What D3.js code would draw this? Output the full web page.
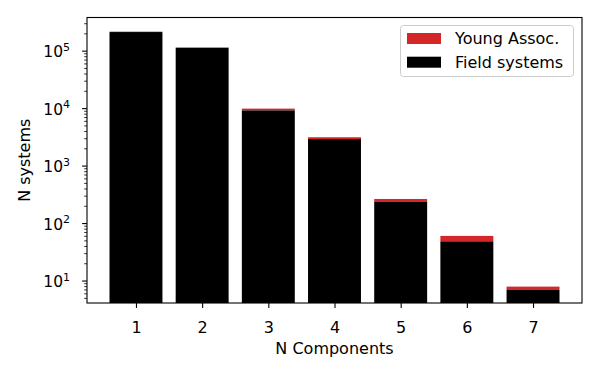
<!DOCTYPE html>
<html>
<head>
<meta charset="utf-8">
<script src="https://cdn.jsdelivr.net/npm/d3@7"></script>
<style>
  body { margin: 0; background: white; }
  svg text { font-family: "DejaVu Sans", sans-serif; fill: #000; }
</style>
</head>
<body>
<div id="chart"></div>
<script>
// Data
const components = [1, 2, 3, 4, 5, 6, 7];
const fieldSystems = [215000, 114000, 9300, 2950, 238, 49, 7];
const youngAssoc = [3500, 2000, 700, 230, 30, 12, 1];
const yTickExps = [1, 2, 3, 4, 5];

const width = 600,
  height = 375;
const margin = { left: 87, right: 18, top: 17.5, bottom: 72 };
const red = "#d62728";
const fontSize = "16px";

const svg = d3
  .select("#chart")
  .append("svg")
  .attr("width", width)
  .attr("height", height);

const x = d3
  .scaleLinear()
  .domain([0.26, 7.74])
  .range([margin.left, width - margin.right]);

const y = d3
  .scaleLog()
  .domain([4.15, 3.85e5])
  .range([height - margin.bottom, margin.top]);

const barW = x(0.8) - x(0);

// Stacked bars: field systems on bottom, young associations on top
const bars = components.map((c, i) => ({
  c: c,
  field: fieldSystems[i],
  total: fieldSystems[i] + youngAssoc[i],
}));

const plot = svg.append("g");
plot
  .selectAll("rect.young")
  .data(bars)
  .enter()
  .append("rect")
  .attr("class", "young")
  .attr("x", (d) => x(d.c) - barW / 2)
  .attr("width", barW)
  .attr("y", (d) => y(d.total))
  .attr("height", (d) => y(d.field) - y(d.total))
  .attr("fill", red);

plot
  .selectAll("rect.field")
  .data(bars)
  .enter()
  .append("rect")
  .attr("class", "field")
  .attr("x", (d) => x(d.c) - barW / 2)
  .attr("width", barW)
  .attr("y", (d) => y(d.field))
  .attr("height", (d) => y.range()[0] - y(d.field))
  .attr("fill", "black");

// x axis
const xAxis = svg
  .append("g")
  .attr("transform", `translate(0,${height - margin.bottom})`)
  .call(d3.axisBottom(x).tickValues(components).tickSize(4.9).tickPadding(5));
xAxis.select(".domain").remove();
xAxis.selectAll("line").attr("stroke", "#000").attr("stroke-width", 1.1);
xAxis
  .selectAll("text")
  .attr("dy", null)
  .attr("y", 30)
  .style("font-size", fontSize)
  .style("font-family", "DejaVu Sans");

// y axis: major ticks with 10^n labels, minor ticks per decade
const minor = [];
for (let e = 0; e <= 5; e++) {
  for (let m = 2; m <= 9; m++) {
    const v = m * Math.pow(10, e);
    if (v >= y.domain()[0] && v <= y.domain()[1]) minor.push(v);
  }
}
const yg = svg.append("g");
yg.selectAll("line.minor")
  .data(minor)
  .enter()
  .append("line")
  .attr("x1", margin.left - 2.8)
  .attr("x2", margin.left)
  .attr("y1", (d) => y(d))
  .attr("y2", (d) => y(d))
  .attr("stroke", "#000")
  .attr("stroke-width", 0.8);

yg.selectAll("line.major")
  .data(yTickExps)
  .enter()
  .append("line")
  .attr("x1", margin.left - 4.9)
  .attr("x2", margin.left)
  .attr("y1", (d) => y(Math.pow(10, d)))
  .attr("y2", (d) => y(Math.pow(10, d)))
  .attr("stroke", "#000")
  .attr("stroke-width", 1.1);

const yLabels = yg
  .selectAll("text.ytick")
  .data(yTickExps)
  .enter()
  .append("text")
  .attr("class", "ytick")
  .attr("x", 70)
  .attr("y", (d) => y(Math.pow(10, d)) + 6)
  .attr("text-anchor", "end")
  .style("font-size", "15.5px");
yLabels.append("tspan").text("10");
yLabels
  .append("tspan")
  .attr("dy", -6.5)
  .style("font-size", "11px")
  .text((d) => d);

// frame
svg
  .append("rect")
  .attr("x", margin.left)
  .attr("y", margin.top)
  .attr("width", width - margin.right - margin.left)
  .attr("height", height - margin.bottom - margin.top)
  .attr("fill", "none")
  .attr("stroke", "#000")
  .attr("stroke-width", 1.1);

// axis labels
svg
  .append("text")
  .attr("x", x(4))
  .attr("y", 353.5)
  .attr("text-anchor", "middle")
  .style("font-size", fontSize)
  .text("N Components");

svg
  .append("text")
  .attr("transform", `translate(30,${(margin.top + height - margin.bottom) / 2}) rotate(-90)`)
  .attr("text-anchor", "middle")
  .style("font-size", fontSize)
  .text("N systems");

// legend
const legendItems = [
  { label: "Young Assoc.", color: red },
  { label: "Field systems", color: "black" },
];
const legend = svg.append("g").attr("transform", "translate(400.5,25.5)");
legend
  .append("rect")
  .attr("width", 173)
  .attr("height", 51)
  .attr("rx", 3)
  .attr("fill", "white")
  .attr("fill-opacity", 0.8)
  .attr("stroke", "#ccc")
  .attr("stroke-width", 1);
const li = legend
  .selectAll("g.item")
  .data(legendItems)
  .enter()
  .append("g")
  .attr("transform", (d, i) => `translate(0,${i * 23.7})`);
li.append("rect")
  .attr("x", 6.5)
  .attr("y", 7.5)
  .attr("width", 34)
  .attr("height", 11)
  .attr("fill", (d) => d.color);
li.append("text")
  .attr("x", 54.5)
  .attr("y", 18.5)
  .style("font-size", fontSize)
  .text((d) => d.label);
</script>
</body>
</html>
